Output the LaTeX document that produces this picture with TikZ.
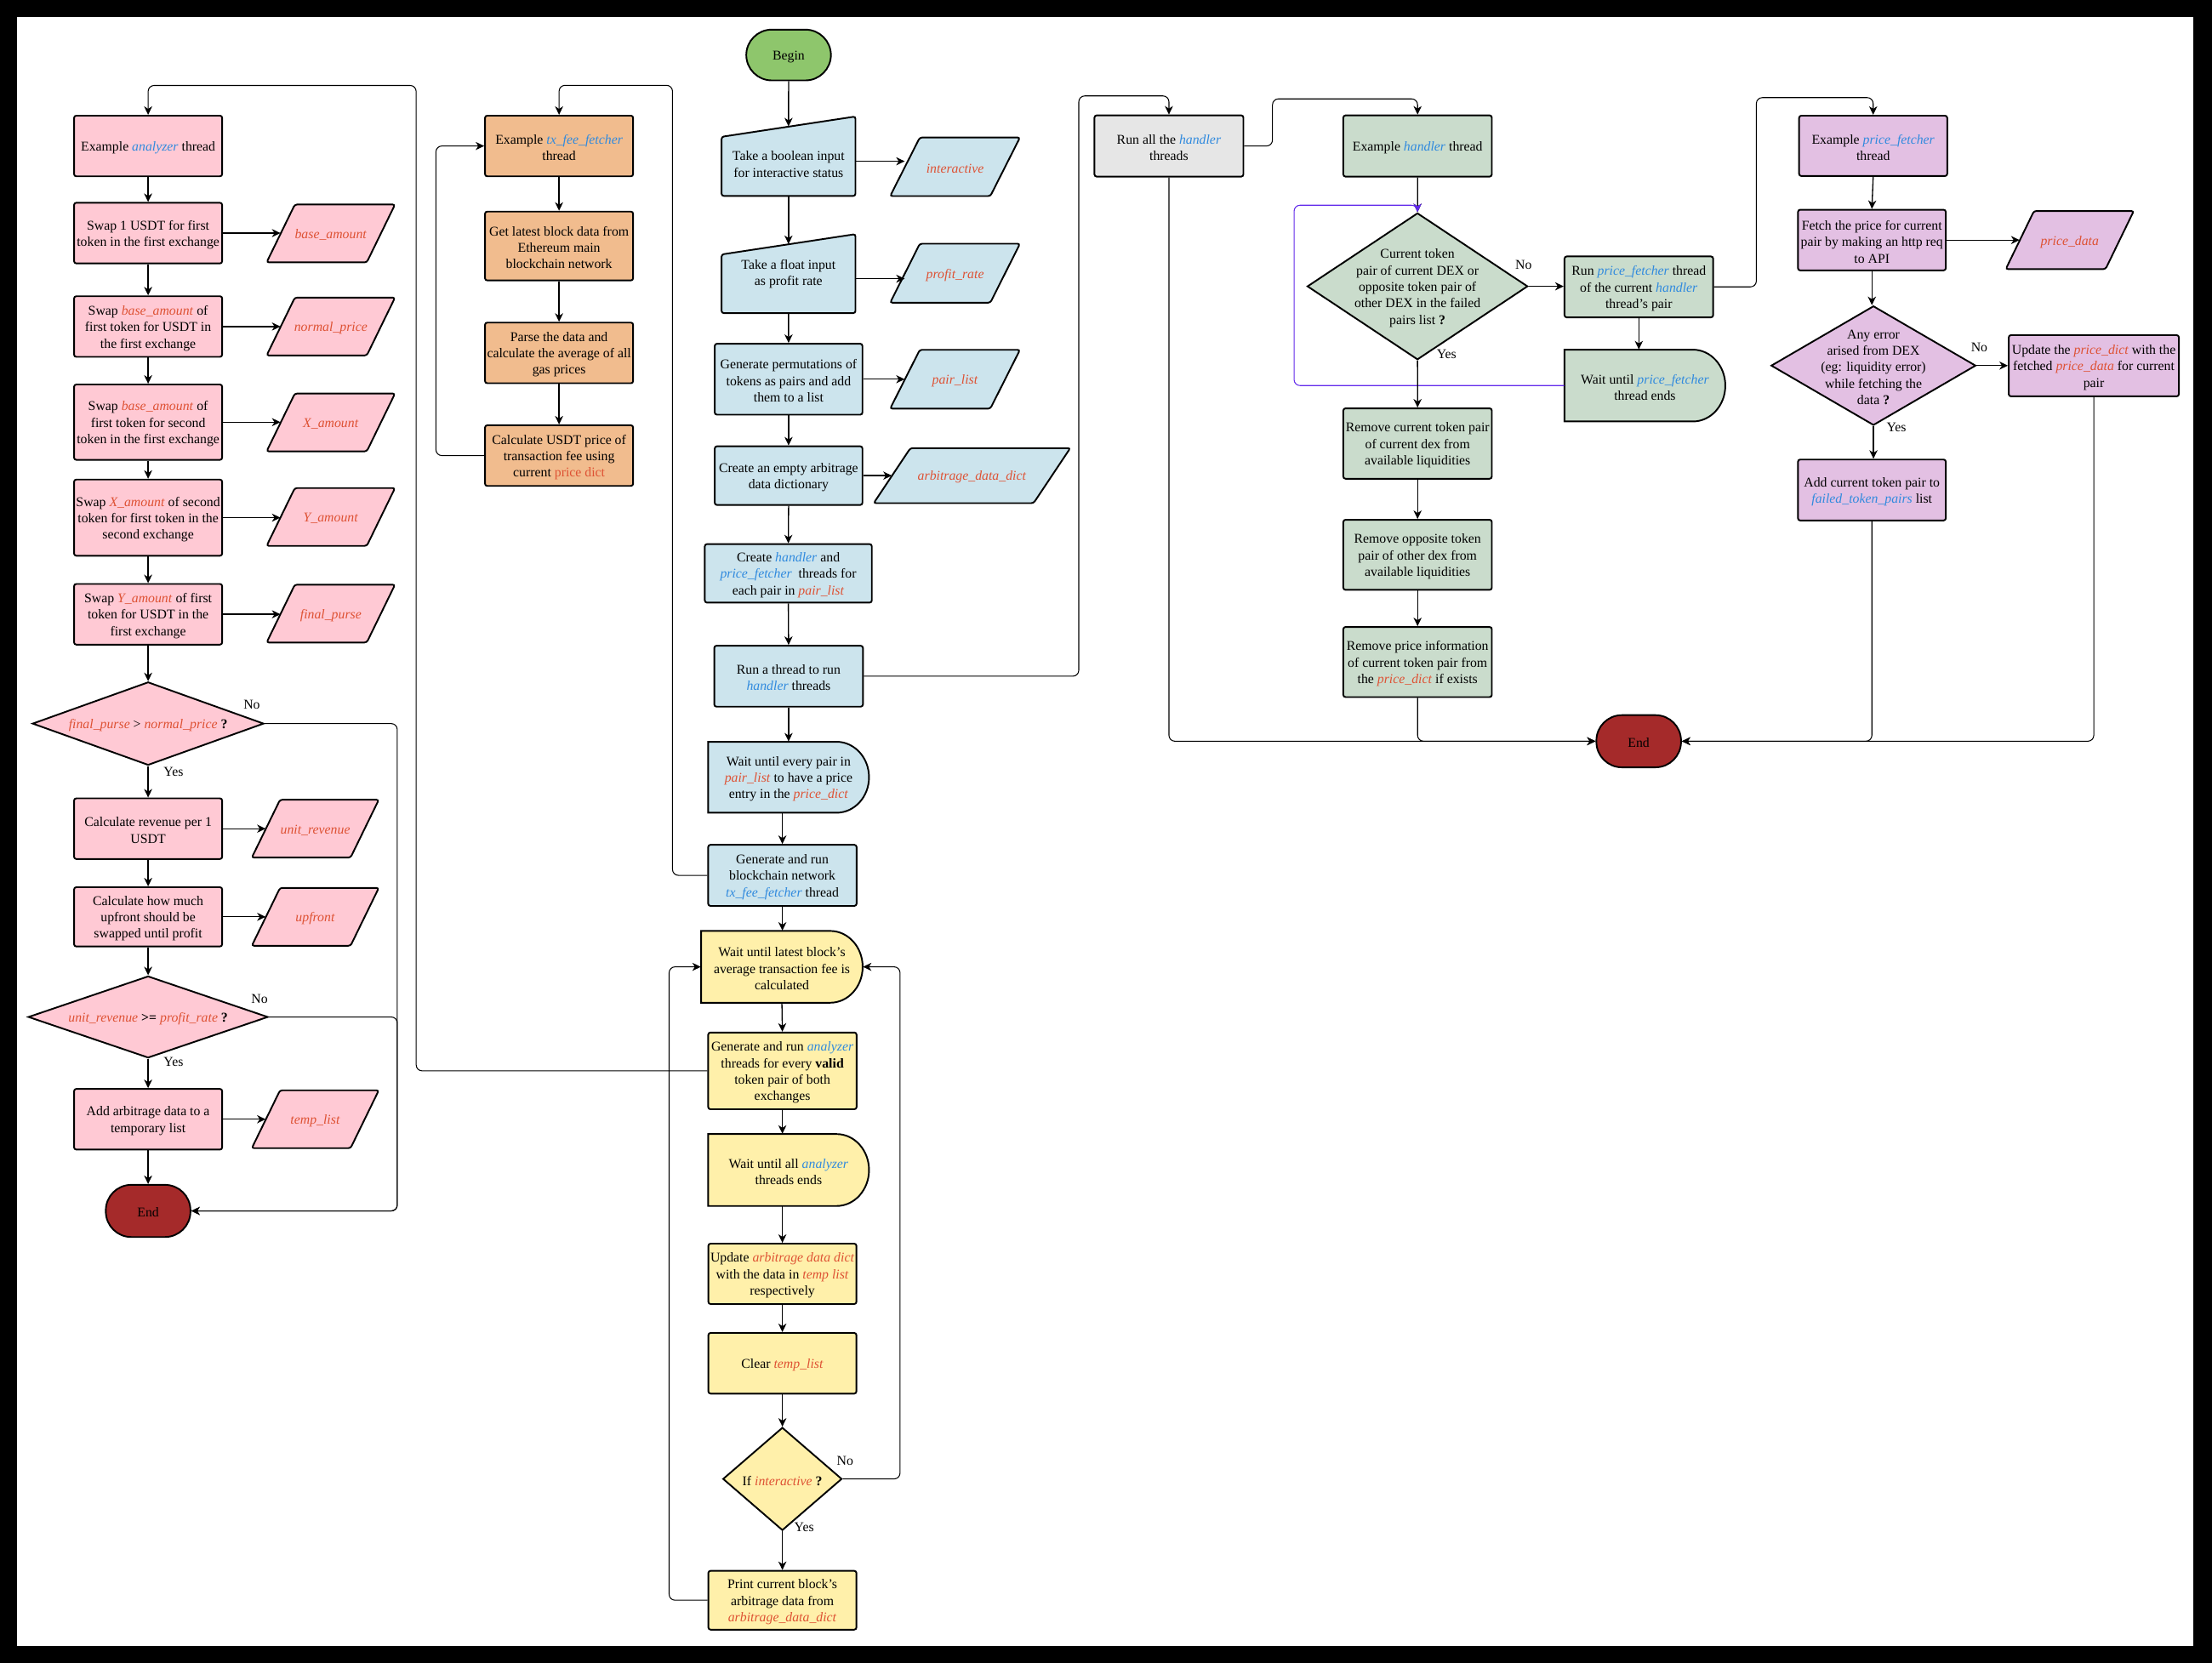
\documentclass[tikz,border=0pt]{standalone}
\usepackage{fontspec}
\setmainfont{Liberation Serif}
\usetikzlibrary{arrows.meta,shapes.geometric,calc}
\definecolor{cpink}{RGB}{255,201,212}
\definecolor{corange}{RGB}{241,188,142}
\definecolor{cblue}{RGB}{204,228,237}
\definecolor{cyellow}{RGB}{255,240,170}
\definecolor{cgreen}{RGB}{202,220,204}
\definecolor{cpurple}{RGB}{227,192,227}
\definecolor{cgray}{RGB}{230,230,230}
\definecolor{cbegin}{RGB}{142,198,108}
\definecolor{cend}{RGB}{165,42,42}
\definecolor{tred}{RGB}{222,82,52}
\definecolor{tblue}{RGB}{48,138,222}
\definecolor{cviolet}{RGB}{98,42,235}
\def\uu{0.0332cm}
\newcommand\fz{\fontsize{9}{11}\selectfont}
\newcommand\rv[1]{\textcolor{tred}{\textit{#1}}}
\newcommand\bl[1]{\textcolor{tblue}{\textit{#1}}}
\tikzset{
  shp/.style={draw=black, line width=1.1pt, rounded corners=1.5pt},
  box/.style={shp, rectangle, inner sep=0pt},
  dia/.style={draw=black, line width=1.1pt, diamond, inner sep=0pt},
  term/.style={draw=black, line width=1.1pt, rectangle, rounded corners=0.6cm, inner sep=0pt},
  txt/.style={inner sep=0pt, align=center, font=\fz, text=black, yshift=-0.04cm},
  ghost/.style={inner sep=0pt, draw=none, fill=none},
  arr/.style={-{Stealth[length=2mm,width=1.9mm,inset=0.6mm]}},
  main/.style={arr, line width=0.75pt},
  lnk/.style={arr, line width=0.6pt, rounded corners=4pt},
  yn/.style={font=\fz, inner sep=0pt}
}
% rectangle box: name, fill, cx, cy, w, h, text
\newcommand{\xrbox}[7]{\node[box, fill=#2, minimum width=#5*\uu, minimum height=#6*\uu] (#1) at (#3,#4) {};
  \node[txt] (#1t) at (#1.center) {#7};}
% diamond: name, fill, cx, cy, w, h, text
\newcommand{\xdbox}[7]{\node[dia, fill=#2, minimum width=#5*\uu, minimum height=#6*\uu] (#1) at (#3,#4) {};
  \node[txt] (#1t) at (#1.center) {#7};}
% terminal: name, fill, cx, cy, w, h, text
\newcommand{\xtbox}[7]{\node[term, fill=#2, minimum width=#5*\uu, minimum height=#6*\uu] (#1) at (#3,#4) {};
  \node[txt] (#1t) at (#1.center) {#7};}
% parallelogram: name, fill, cx, cy, w, h, slant, text
\newcommand{\xpbox}[8]{\draw[shp, fill=#2] ({#3-#5/2+#7},{#4-#6/2}) -- ({#3+#5/2},{#4-#6/2}) -- ({#3+#5/2-#7},{#4+#6/2}) -- ({#3-#5/2},{#4+#6/2}) -- cycle;
  \node[ghost, minimum width={(#5-#7)*\uu}, minimum height=#6*\uu] (#1) at (#3,#4) {};
  \node[txt] (#1t) at (#1.center) {#8};}
% delay: name, fill, x1, y1, x2, y2, text
\newcommand{\xdlbox}[7]{\draw[shp, fill=#2, sharp corners] (#3,#4) -- ({#5-23},#4) .. controls ({#5-10.3},#4) and (#5,{(#4+#6)/2-0.5523*(#6-#4)/2}) .. (#5,{(#4+#6)/2}) .. controls (#5,{(#4+#6)/2+0.5523*(#6-#4)/2}) and ({#5-10.3},#6) .. ({#5-23},#6) -- (#3,#6) -- cycle;
  \node[ghost, minimum width={(#5-#3)*\uu}, minimum height={(#6-#4)*\uu}] (#1) at ({(#3+#5)/2},{(#4+#6)/2}) {};
  \node[txt] (#1t) at (#1.center) {#7};}
% manual input: name, x1, x2, yTL, yTR, y2, text y, text
\newcommand{\xmbox}[8]{\draw[shp, fill=cblue] (#2,#4) -- (#3,#5) -- (#3,#6) -- (#2,#6) -- cycle;
  \node[ghost, minimum width={(#3-#2)*\uu}, minimum height={(#6-(#4+#5)/2)*\uu}] (#1) at ({(#2+#3)/2},{((#4+#5)/2+#6)/2}) {};
  \node[txt] (#1t) at (#1.center |- 0,#7) {#8};}

\begin{document}
\begin{tikzpicture}[x=0.0332cm, y=-0.0332cm]
\fill[black] (0,0) rectangle (1568,1179);
\fill[white] (12,12) rectangle (1555,1167);
\useasboundingbox (0,0) rectangle (1568,1179);

% ---------- column 1: analyzer ----------
\xrbox{a1}{cpink}{105}{103.5}{105}{43}{Example \bl{analyzer} thread}
\xrbox{a2}{cpink}{105}{165.25}{105}{43}{Swap 1 USDT for first\\token in the first exchange}
\xrbox{a3}{cpink}{105}{231.5}{105}{43}{Swap \rv{base\_amount} of\\first token for USDT in\\the first exchange}
\xrbox{a4}{cpink}{105}{299.3}{105}{53.4}{Swap \rv{base\_amount} of\\first token for second\\token in the first exchange}
\xrbox{a5}{cpink}{105}{367}{105}{54}{Swap \rv{X\_amount} of second\\token for first token in the\\second exchange}
\xrbox{a6}{cpink}{105}{435.5}{105}{43}{Swap \rv{Y\_amount} of first\\token for USDT in the\\first exchange}
\xdbox{d1}{cpink}{105}{513}{164}{59}{\rv{final\_purse} > \rv{normal\_price} \textbf{?}}
\xrbox{a7}{cpink}{105}{587.5}{105}{43}{Calculate revenue per 1\\USDT}
\xrbox{a8}{cpink}{105}{650}{105}{42}{Calculate how much\\upfront should be\\swapped until profit}
\xdbox{d2}{cpink}{105}{721}{170}{58}{\rv{unit\_revenue} \textbf{>=} \rv{profit\_rate} \textbf{?}}
\xrbox{a9}{cpink}{105}{793.5}{105}{43}{Add arbitrage data to a\\temporary list}
\xtbox{e1}{cend}{105}{858.5}{60}{37}{End}

\xpbox{p1}{cpink}{234.5}{165.5}{91}{41}{20}{\rv{base\_amount}}
\xpbox{p2}{cpink}{234.5}{231.5}{91}{41}{20}{\rv{normal\_price}}
\xpbox{p3}{cpink}{234.5}{299.5}{91}{41}{20}{\rv{X\_amount}}
\xpbox{p4}{cpink}{234.5}{366.5}{91}{41}{20}{\rv{Y\_amount}}
\xpbox{p5}{cpink}{234.5}{435}{91}{41}{20}{\rv{final\_purse}}
\xpbox{p6}{cpink}{223.5}{587.5}{90}{41}{20}{\rv{unit\_revenue}}
\xpbox{p7}{cpink}{223.5}{650}{90}{41}{20}{\rv{upfront}}
\xpbox{p8}{cpink}{223.5}{793.5}{90}{41}{20}{\rv{temp\_list}}

\node[yn] (ln1) at (178.5,499.3) {No};
\node[yn] (ly1) at (123,547) {Yes};
\node[yn] (ln2) at (184,708) {No};
\node[yn] (ly2) at (123,752.6) {Yes};

% ---------- column 2: tx_fee_fetcher ----------
\xrbox{b1}{corange}{396.3}{103.5}{105}{43}{Example \bl{tx\_fee\_fetcher}\\thread}
\xrbox{b2}{corange}{396.3}{174.4}{105}{48.8}{Get latest block data from\\Ethereum main\\blockchain network}
\xrbox{b3}{corange}{396.3}{250.2}{105}{43}{Parse the data and\\calculate the average of all\\gas prices}
\xrbox{b4}{corange}{396.3}{323}{105}{43}{Calculate USDT price of\\transaction fee using\\current \textcolor{tred}{price dict}}

% ---------- main column ----------
\xtbox{bg}{cbegin}{559}{39}{60}{36}{Begin}
\xmbox{c1}{511.5}{606.4}{97}{82.6}{138.9}{115.2}{Take a boolean input\\for interactive status}
\xpbox{q1}{cblue}{677}{118.25}{92}{41.5}{21}{\rv{interactive}}
\xmbox{c2}{511.5}{606.4}{180.4}{166}{222}{193}{Take a float input\\as profit rate}
\xpbox{q2}{cblue}{677}{193.7}{92}{41.8}{21}{\rv{profit\_rate}}
\xrbox{c3}{cblue}{559}{268.85}{104.7}{50.3}{Generate permutations of\\tokens as pairs and add\\them to a list}
\xpbox{q3}{cblue}{677}{268.85}{92}{41.7}{21}{\rv{pair\_list}}
\xrbox{c4}{cblue}{559}{337.2}{104.7}{41.6}{Create an empty arbitrage\\data dictionary}
\xpbox{q4}{cblue}{689}{337.2}{139.3}{39}{26}{\rv{arbitrage\_data\_dict}}
\xrbox{c5}{cblue}{558.8}{406.5}{118.4}{41.5}{Create \bl{handler} and\\\bl{price\_fetcher}\ \ threads for\\each pair in \rv{pair\_list}}
\xrbox{c6}{cblue}{559}{479.4}{105.4}{43.2}{Run a thread to run\\\bl{handler} threads}
\xdlbox{c7}{cblue}{502}{525.9}{616}{576.2}{Wait until every pair in\\\rv{pair\_list} to have a price\\entry in the \rv{price\_dict}}
\xrbox{c8}{cblue}{554.6}{620.6}{105.2}{43.3}{Generate and run\\blockchain network\\\bl{tx\_fee\_fetcher} thread}
\xdlbox{c9}{cyellow}{497}{660}{611.5}{710.9}{Wait until latest block's\\average transaction fee is\\calculated}
\xrbox{c10}{cyellow}{554.6}{759.2}{105.2}{54.4}{Generate and run \bl{analyzer}\\threads for every \textbf{valid}\\token pair of both\\exchanges}
\xdlbox{c11}{cyellow}{502}{804}{616}{855}{Wait until all \bl{analyzer}\\threads ends}
\xrbox{c12}{cyellow}{554.6}{903.1}{105}{42.8}{Update \rv{arbitrage data dict}\\with the data in \rv{temp list}\\respectively}
\xrbox{c13}{cyellow}{554.6}{966.5}{105}{43}{Clear \rv{temp\_list}}
\xdbox{d3}{cyellow}{554.6}{1048.5}{84.4}{73}{If \rv{interactive} \textbf{?}}
\xrbox{c14}{cyellow}{554.6}{1134.5}{105}{41.7}{Print current block's\\arbitrage data from\\\rv{arbitrage\_data\_dict}}
\node[yn] (ln3) at (599,1035.6) {No};
\node[yn] (ly3) at (570,1083) {Yes};

% ---------- handler ----------
\xrbox{r1}{cgray}{828.6}{103.5}{105.6}{43.4}{Run all the \bl{handler}\\threads}
\xrbox{r2}{cgreen}{1004.85}{103.5}{105.3}{43.4}{Example \bl{handler} thread}
\xdbox{d4}{cgreen}{1004.8}{203}{156.3}{104}{Current token\\pair of current DEX or\\opposite token pair of\\other DEX in the failed\\pairs list \textbf{?}}
\xrbox{r3}{cgreen}{1161.7}{203.4}{105.4}{43.2}{Run \bl{price\_fetcher} thread\\of the current \bl{handler}\\thread's pair}
\xdlbox{r4}{cgreen}{1109}{247.9}{1223}{298.8}{Wait until \bl{price\_fetcher}\\thread ends}
\xrbox{r5}{cgreen}{1004.85}{314.45}{105.3}{49.9}{Remove current token pair\\of current dex from\\available liquidities}
\xrbox{r6}{cgreen}{1004.85}{393.35}{105.3}{49.7}{Remove opposite token\\pair of other dex from\\available liquidities}
\xrbox{r7}{cgreen}{1004.85}{469.35}{105.3}{49.7}{Remove price information\\of current token pair from\\the \rv{price\_dict} if exists}
\xtbox{e2}{cend}{1161.6}{525.5}{60}{37}{End}
\node[yn] (ln4) at (1080,188) {No};
\node[yn] (ly4) at (1025.4,251) {Yes};

% ---------- price_fetcher ----------
\xrbox{r8}{cpurple}{1327.8}{103.4}{105}{42.8}{Example \bl{price\_fetcher}\\thread}
\xrbox{r9}{cpurple}{1326.9}{170.2}{104.8}{43}{Fetch the price for current\\pair by making an http req\\to API}
\xpbox{q5}{cpurple}{1467.15}{170.2}{90.7}{41.2}{20}{\rv{price\_data}}
\xdbox{d5}{cpurple}{1328}{259.2}{145.1}{84.6}{Any error\\arised from DEX\\(eg: liquidity error)\\while fetching the\\data \textbf{?}}
\xrbox{r10}{cpurple}{1484.2}{259.3}{120.6}{43.4}{Update the \rv{price\_dict} with the\\fetched \rv{price\_data} for current\\pair}
\xrbox{r11}{cpurple}{1326.9}{347.4}{104.8}{43.2}{Add current token pair to\\\bl{failed\_token\_pairs} list}
\node[yn] (ln5) at (1403,246) {No};
\node[yn] (ly5) at (1344.3,303.2) {Yes};

% ---------- connectors: column 1 ----------
\draw[main] (a1.south) -- (a2.north);
\draw[main] (a2.south) -- (a3.north);
\draw[main] (a3.south) -- (a4.north);
\draw[main] (a4.south) -- (a5.north);
\draw[main] (a5.south) -- (a6.north);
\draw[main] (a6.south) -- (d1.north);
\draw[main] (d1.south) -- (a7.north);
\draw[main] (a7.south) -- (a8.north);
\draw[main] (a8.south) -- (d2.north);
\draw[main] (d2.south) -- (a9.north);
\draw[main] (a9.south) -- (e1.north);
\foreach \s/\t in {a2/p1,a3/p2,a4/p3,a5/p4,a6/p5,a7/p6,a8/p7,a9/p8}
  \draw[main] (\s.east) -- (\s.east -| \t.west);
\draw[lnk] (d1.east) -- (281.6,513) |- (e1.east);
\draw[lnk] (d2.east) -- (281.6,721) |- (e1.east);
\draw[lnk] (c10.west) -- (295,759.2) -- (295,60.6) -| (a1.north);

% ---------- column 2 ----------
\draw[main] (b1.south) -- (b2.north);
\draw[main] (b2.south) -- (b3.north);
\draw[main] (b3.south) -- (b4.north);
\draw[lnk] (b4.west) -- (309,323) |- (b1.west);
\draw[lnk] (c8.west) -- (476.7,620.6) -- (476.7,60.5) -| (b1.north);

% ---------- main column ----------
\draw[main] (bg.south) -- (c1.north);
\draw[main] (c1.south) -- (c2.north);
\draw[main] (c2.south) -- (c3.north);
\draw[main] (c3.south) -- (c4.north);
\draw[main] (c4.south) -- (c5.north);
\draw[main] (c5.south) -- (c6.north);
\draw[main] (c6.south) -- (c7.north);
\draw[main] (c8.north |- c7.south) -- (c8.north);
\draw[main] (c8.south) -- (c8.south |- c9.north);
\draw[main] (c9.south) -- (c10.north);
\draw[main] (c10.south) -- (c10.south |- c11.north);
\draw[main] (c12.north |- c11.south) -- (c12.north);
\draw[main] (c12.south) -- (c13.north);
\draw[main] (c13.south) -- (d3.north);
\draw[main] (d3.south) -- (c14.north);
\draw[main] (c1.east) -- (c1.east -| q1.west);
\draw[main] (c2.east) -- (c2.east -| q2.west);
\draw[main] (c3.east) -- (c3.east -| q3.west);
\draw[main] (c4.east) -- (c4.east -| q4.west);
\draw[lnk] (c6.east) -| (764.7,68) -| (r1.north);
\draw[lnk] (d3.east) -- (638,1048.5) |- (c9.east);
\draw[lnk] (c14.west) -- (474.3,1134.5) |- (c9.west);

% ---------- handler connectors ----------
\draw[lnk] (r1.east) -| (902,70.1) -| (r2.north);
\draw[lnk] (r1.south) |- (e2.west);
\draw[main] (r2.south) -- (d4.north);
\draw[lnk, draw=cviolet] (r4.west) -| (917.3,145.5) -| (d4.north);
\draw[main] (d4.east) -- (d4.east -| r3.west);
\draw[main] (d4.south) -- (r5.north);
\draw[main] (r3.south) -- (r3.south |- r4.north);
\draw[lnk] (r3.east) -| (1245,69.2) -| (r8.north);
\draw[main] (r5.south) -- (r6.north);
\draw[main] (r6.south) -- (r7.north);
\draw[lnk] (r7.south) |- (e2.west);

% ---------- price_fetcher connectors ----------
\draw[main] (r8.south) -- (r9.north);
\draw[main] (r9.east) -- (r9.east -| q5.west);
\draw[main] (r9.south) -- (r9.south |- d5.north);
\draw[main] (d5.east) -- (d5.east -| r10.west);
\draw[main] (d5.south) -- (d5.south |- r11.north);
\draw[lnk] (r11.south) |- (e2.east);
\draw[lnk] (r10.south) |- (e2.east);
\end{tikzpicture}
\end{document}
